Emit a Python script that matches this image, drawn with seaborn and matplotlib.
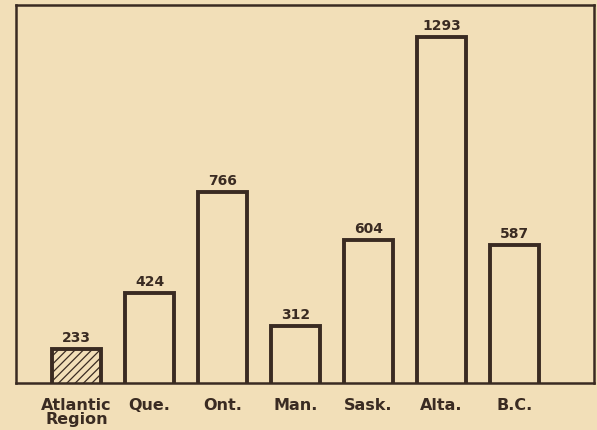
import matplotlib
matplotlib.use("Agg")
import matplotlib.pyplot as plt
import seaborn as sns
import pandas as pd

# data
regions = ["Atlantic\nRegion", "Que.", "Ont.", "Man.", "Sask.", "Alta.", "B.C."]
values = [233, 424, 766, 312, 604, 1293, 587]

paper = "#f2dfb8"
ink = "#3a2b22"

sns.set_theme(style="white")
plt.rcParams["font.family"] = ["DejaVu Sans"]
plt.rcParams["hatch.color"] = ink
plt.rcParams["hatch.linewidth"] = 0.9

df = pd.DataFrame({"region": regions, "value": values})

fig = plt.figure(figsize=(5.97, 4.30), dpi=100, facecolor=paper)
ax = fig.add_axes([16 / 597, 47 / 430, 578 / 597, 378 / 430])
ax.set_facecolor(paper)

sns.barplot(data=df, x="region", y="value", ax=ax, width=0.66,
            color=paper, edgecolor=ink, linewidth=2.8, saturation=1)

# hatch the Atlantic bar
ax.patches[0].set_hatch("////")

for i, v in enumerate(values):
    ax.text(i, v + 14, str(v), ha="center", va="bottom",
            fontsize=10, fontweight="bold", color=ink)

# the original axis does not start at zero
ax.set_ylim(117.5, 1402)
ax.set_xlim(-0.83, 7.09)
ax.set_yticks([])
ax.set_xlabel("")
ax.set_ylabel("")
ax.tick_params(axis="x", length=0, pad=11)
for lab in ax.get_xticklabels():
    lab.set_fontsize(11.5)
    lab.set_fontweight("bold")
    lab.set_color(ink)
    lab.set_linespacing(0.9)
    lab.set_va("top")

for s in ax.spines.values():
    s.set_visible(True)
    s.set_color(ink)
    s.set_linewidth(1.8)

fig.savefig("out.png", dpi=100, facecolor=paper)
